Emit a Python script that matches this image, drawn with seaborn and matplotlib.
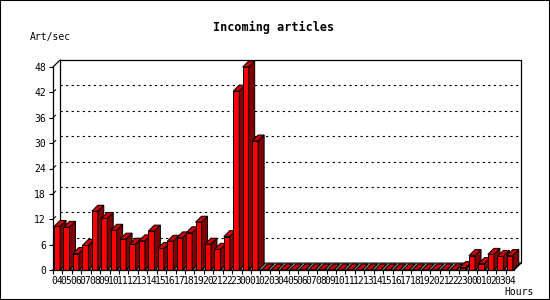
import numpy as np
import pandas as pd
import matplotlib
matplotlib.use("Agg")
import matplotlib.pyplot as plt
import seaborn as sns
from matplotlib.patches import Polygon, Rectangle

# ---- data ----
hours = ["04", "05", "06", "07", "08", "09", "10", "11", "12", "13", "14", "15",
         "16", "17", "18", "19", "20", "21", "22", "23", "00", "01", "02", "03",
         "04", "05", "06", "07", "08", "09", "10", "11", "12", "13", "14", "15",
         "16", "17", "18", "19", "20", "21", "22", "23", "00", "01", "02", "03", "04"]
values = [10.3, 10.1, 3.9, 5.8, 13.9, 12.2, 9.4, 7.3, 6.1, 6.9, 9.2, 5.1,
          6.8, 7.6, 8.8, 11.3, 6.1, 4.9, 7.9, 42.3, 48.0, 30.5, 0, 0,
          0, 0, 0, 0, 0, 0, 0, 0, 0, 0, 0, 0,
          0, 0, 0, 0, 0, 0, 0, 0.55, 3.4, 1.5, 3.7, 3.2, 3.4]
y_ticks = [0, 6, 12, 18, 24, 30, 36, 42, 48]
title = "Incoming articles"
y_label = "Art/sec"
x_label = "Hours"

sns.set_theme(style="white")
plt.rcParams['font.family'] = ['DejaVu Sans Mono', 'DejaVu Sans']

FW, FH = 550, 300
fig = plt.figure(figsize=(5.5, 3), dpi=100)
fig.patch.set_facecolor("white")
L, R, T, B = 53, 514, 67, 270
ax = fig.add_axes([L / FW, (FH - B) / FH, (R - L) / FW, (B - T) / FH])
ax.set_facecolor("none")

df = pd.DataFrame({"pos": np.arange(len(values)), "val": values})
sns.barplot(data=df, x="pos", y="val", color="#FF0000", saturation=1,
            width=0.64, edgecolor="black", linewidth=0.7, errorbar=None, ax=ax)

xmin, xmax = -0.43, 48.45
ymin, ymax = 0, 48
ax.set_xlim(xmin, xmax)
ax.set_ylim(ymin, ymax)
ux = (xmax - xmin) / (R - L)
uy = (ymax - ymin) / (B - T)

# bar depth and wall depth (pixels -> data)
bdx, bdy = 6 * ux, 6 * uy
wdx, wdy = 7 * ux, 7 * uy

for i, p in enumerate(ax.patches):
    x, w, h = p.get_x(), p.get_width(), p.get_height()
    z = 3 + i * 0.01
    p.set_zorder(z)
    p.set_clip_on(False)
    top = Polygon([(x, h), (x + w, h), (x + w + bdx, h + bdy), (x + bdx, h + bdy)],
                  closed=True, fc="#CC0000", ec="black", lw=0.7, zorder=z + 0.002,
                  clip_on=False)
    side = Polygon([(x + w, 0), (x + w, h), (x + w + bdx, h + bdy), (x + w + bdx, bdy)],
                   closed=True, fc="#800000", ec="black", lw=0.7, zorder=z + 0.001,
                   clip_on=False)
    ax.add_patch(side)
    ax.add_patch(top)

# floor
floor = Polygon([(xmin, 0), (xmax, 0), (xmax + wdx, wdy), (xmin + wdx, wdy)],
                closed=True, fc="#808080", ec="black", lw=0.7, zorder=1, clip_on=False)
ax.add_patch(floor)

lk = dict(color="black", lw=0.9, clip_on=False)
# back wall frame
ax.plot([xmin + wdx, xmax + wdx], [ymax + wdy, ymax + wdy], zorder=1.5, **lk)
ax.plot([xmin + wdx, xmin + wdx], [wdy, ymax + wdy], zorder=1.5, **lk)
ax.plot([xmax + wdx, xmax + wdx], [wdy, ymax + wdy], zorder=1.5, **lk)
# corner edges
ax.plot([xmin, xmin + wdx], [ymax, ymax + wdy], zorder=1.5, **lk)
ax.plot([xmin, xmin + wdx], [0, wdy], zorder=1.5, **lk)
ax.plot([xmax, xmax + wdx], [0, wdy], zorder=20, **lk)
# grid lines on back wall
for t in y_ticks[1:-1]:
    ax.plot([xmin + wdx, xmax + wdx], [t + wdy, t + wdy], color="black", lw=0.8,
            dashes=(2, 3), zorder=1.6, clip_on=False)
    ax.plot([xmin, xmin + wdx * 0.4], [t, t + wdy * 0.4], color="black", lw=0.7,
            zorder=1.7, clip_on=False)
# front axes
ax.plot([xmin, xmin], [0, ymax], zorder=20, **lk)
ax.plot([xmin, xmax], [0, 0], zorder=20, **lk)

for s in ax.spines.values():
    s.set_visible(False)

ax.set_yticks(y_ticks)
ax.set_yticklabels([str(t) for t in y_ticks])
ax.set_xticks(np.arange(len(hours)))
ax.set_xticklabels(hours)
ax.set_xticks(np.arange(len(hours)) - 0.43, minor=True)
ax.tick_params(axis="y", which="major", left=True, length=3, width=0.8,
               color="black", labelsize=7, labelcolor="black", pad=2)
ax.tick_params(axis="x", which="major", bottom=True, length=0, labelsize=7,
               labelcolor="black", pad=4)
ax.tick_params(axis="x", which="minor", bottom=True, length=3, width=0.8,
               color="black")
ax.set_xlabel("")
ax.set_ylabel("")

fig.text(274 / FW, 1 - 27 / FH, title, ha="center", va="center",
         fontsize=8.5, fontweight="bold", color="black")
fig.text(30 / FW, 1 - 37 / FH, y_label, ha="left", va="center",
         fontsize=7, color="black")
fig.text(504 / FW, 1 - 292 / FH, x_label, ha="left", va="center",
         fontsize=7, color="black")

fig.patches.append(Rectangle((0, 0), 1, 1, transform=fig.transFigure,
                             fill=False, ec="black", lw=1.5))

fig.savefig("out.png", dpi=100)
